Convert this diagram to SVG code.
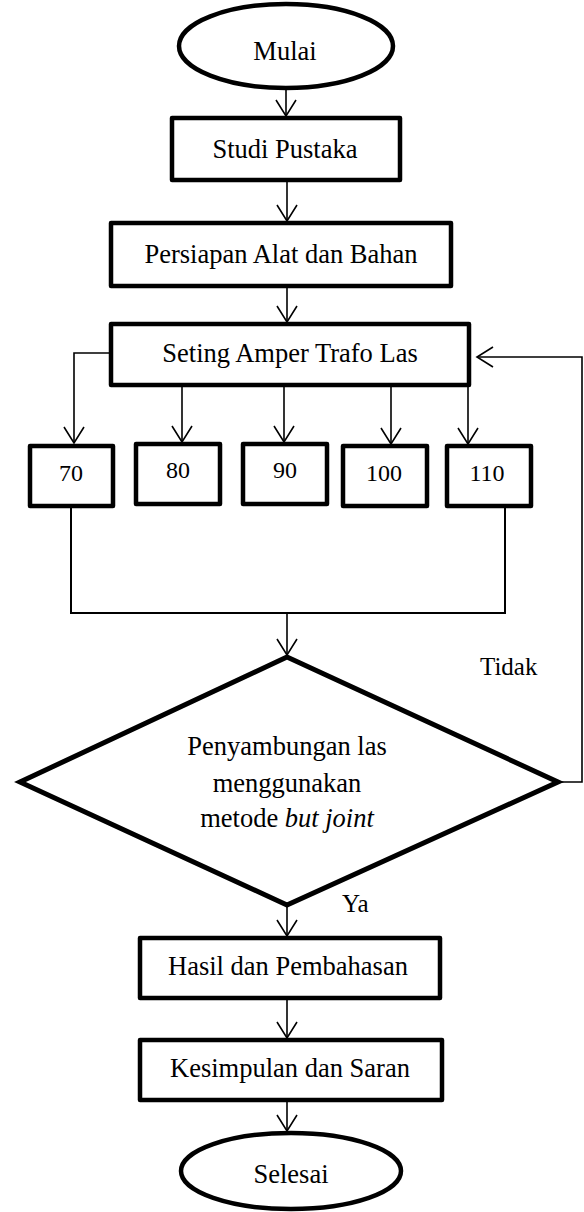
<svg xmlns="http://www.w3.org/2000/svg" width="584" height="1212" viewBox="0 0 584 1212">
<style>
.n{fill:#fff;stroke:#000;stroke-width:4.5;stroke-linejoin:round}
.t{font-family:"Liberation Serif","Times New Roman",serif;font-size:26.5px;fill:#000;text-anchor:middle}
.d{font-family:"Liberation Serif","Times New Roman",serif;font-size:24px;fill:#000;text-anchor:middle}
.l{font-family:"Liberation Serif","Times New Roman",serif;font-size:25px;fill:#000}
.c{fill:none;stroke:#000;stroke-width:1.6}
</style>
<defs>
<marker id="arr" markerUnits="userSpaceOnUse" markerWidth="18" markerHeight="22" refX="16" refY="10" orient="auto" overflow="visible">
<path d="M0,0 L16,10 L0,20" fill="none" stroke="#000" stroke-width="1.6"/>
</marker>
</defs>
<rect width="584" height="1212" fill="#fff"/>
<g id="connectors">
<line class="c" x1="286" y1="88" x2="286" y2="116" marker-end="url(#arr)"/>
<line class="c" x1="287" y1="180" x2="287" y2="221" marker-end="url(#arr)"/>
<line class="c" x1="287" y1="286" x2="287" y2="322" marker-end="url(#arr)"/>
<polyline class="c" points="111,353 74,353 74,443" marker-end="url(#arr)"/>
<line class="c" x1="182" y1="385" x2="182" y2="442" marker-end="url(#arr)"/>
<line class="c" x1="284" y1="385" x2="284" y2="442" marker-end="url(#arr)"/>
<line class="c" x1="391" y1="385" x2="391" y2="444" marker-end="url(#arr)"/>
<line class="c" x1="468" y1="385" x2="468" y2="444" marker-end="url(#arr)"/>
<polyline class="c" points="71,506 71,613 505,613 505,506" style="stroke-width:2"/>
<line class="c" x1="287" y1="613" x2="287" y2="655" marker-end="url(#arr)"/>
<polyline class="c" points="558,782 582,782 582,357 477,357" marker-end="url(#arr)"/>
<line class="c" x1="287" y1="905" x2="287" y2="936" marker-end="url(#arr)"/>
<line class="c" x1="287" y1="998" x2="287" y2="1038" marker-end="url(#arr)"/>
<line class="c" x1="287" y1="1100" x2="287" y2="1131" marker-end="url(#arr)"/>
<text class="l" x="480" y="675">Tidak</text>
<text class="l" x="342" y="912">Ya</text>
</g>
<g id="mulai">
<ellipse class="n" cx="286" cy="46" rx="107" ry="42"/>
<text class="t" x="285" y="60">Mulai</text>
</g>
<g id="studi">
<rect class="n" x="172" y="118" width="228" height="62"/>
<text class="t" x="285" y="158">Studi Pustaka</text>
</g>
<g id="persiapan">
<rect class="n" x="111" y="223" width="340" height="63"/>
<text class="t" x="281" y="263">Persiapan Alat dan Bahan</text>
</g>
<g id="seting">
<rect class="n" x="111" y="324" width="358" height="61"/>
<text class="t" x="290" y="362">Seting Amper Trafo Las</text>
</g>
<g id="a70">
<rect class="n" x="30" y="446" width="83" height="60"/>
<text class="d" x="71" y="481">70</text>
</g>
<g id="a80">
<rect class="n" x="136" y="444" width="84" height="60"/>
<text class="d" x="178" y="478">80</text>
</g>
<g id="a90">
<rect class="n" x="243" y="444" width="84" height="60"/>
<text class="d" x="285" y="478">90</text>
</g>
<g id="a100">
<rect class="n" x="343" y="446" width="84" height="60"/>
<text class="d" x="384" y="481">100</text>
</g>
<g id="a110">
<rect class="n" x="447" y="446" width="84" height="60"/>
<text class="d" x="487" y="481">110</text>
</g>
<g id="keputusan">
<polygon class="n" points="287,657 558,782 287,905 20,782" style="stroke-width:5;stroke-linejoin:miter"/>
<text class="t" x="287" y="755">Penyambungan las</text>
<text class="t" x="287" y="792">menggunakan</text>
<text class="t" x="287" y="827">metode <tspan font-style="italic">but joint</tspan></text>
</g>
<g id="hasil">
<rect class="n" x="140" y="938" width="300" height="60"/>
<text class="t" x="288" y="975">Hasil dan Pembahasan</text>
</g>
<g id="kesimpulan">
<rect class="n" x="140" y="1040" width="302" height="60"/>
<text class="t" x="290" y="1077">Kesimpulan dan Saran</text>
</g>
<g id="selesai">
<ellipse class="n" cx="291" cy="1171" rx="110" ry="38"/>
<text class="t" x="291" y="1183">Selesai</text>
</g>
</svg>
